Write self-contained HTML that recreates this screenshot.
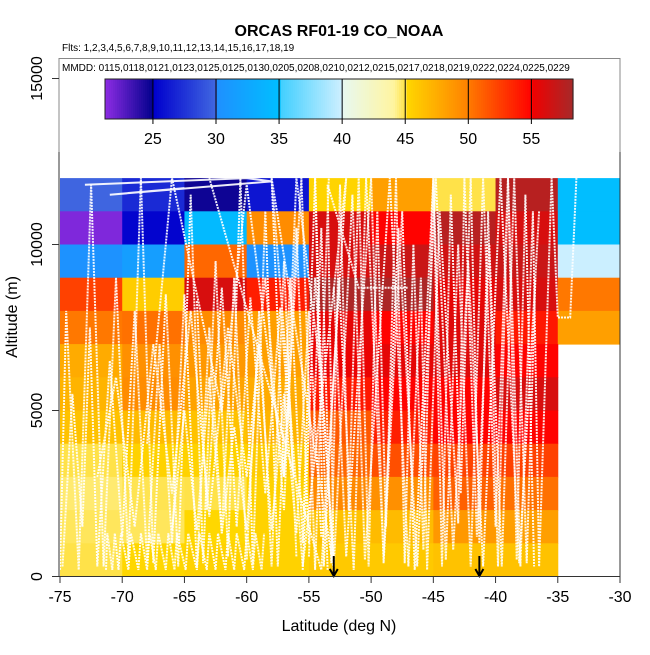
<!DOCTYPE html>
<html><head><meta charset="utf-8"><style>
html,body{margin:0;padding:0;background:#fff;}
svg text{font-family:"Liberation Sans",sans-serif;}
</style></head><body>
<svg id="chart" width="650" height="650" viewBox="0 0 650 650" xmlns="http://www.w3.org/2000/svg">
<text x="339" y="36" font-size="16" font-weight="bold" text-anchor="middle">ORCAS RF01-19 CO_NOAA</text>
<text x="62" y="51" font-size="10">Flts: 1,2,3,4,5,6,7,8,9,10,11,12,13,14,15,16,17,18,19</text>
<g id="cells"></g>
<g id="tracks"></g>
<g id="arrows"></g>
<rect x="59" y="58.5" width="561" height="93" fill="#fff" stroke="none"/>
<path d="M59,152 V58.5 H620 V152" fill="none" stroke="#888" stroke-width="1"/>
<text x="62" y="71" font-size="10">MMDD: 0115,0118,0121,0123,0125,0125,0130,0205,0208,0210,0212,0215,0217,0218,0219,0222,0224,0225,0229</text>
<g id="colorbar"></g>
<g id="axes"></g>
<text x="339" y="631" font-size="16" text-anchor="middle">Latitude (deg N)</text>
<text transform="translate(17,317) rotate(-90)" font-size="16" text-anchor="middle">Altitude (m)</text>
</svg>
<script>
const latBins=[-75,-70,-65,-60,-55,-50,-45,-40,-35];
const altBins=[11000,10000,9000,8000,7000,6000,5000,4000,3000,2000,1000,0];
const coValues=[
[29.8,27,24.6,26,45.2,48.2,44.9,57.5,34.9],
[21.5,25.2,34.5,49.3,56.1,54.9,57.5,56.1,34.9],
[30.2,31.5,50.7,30.2,56.1,56.7,56.4,56.7,39.8],
[52.3,45.6,56.1,53.8,58,58,55.5,56.1,50],
[50,50.3,49.3,48.2,55.5,54.9,55.8,54,48.2],
[47.5,49.1,48.6,48.2,55.2,55.5,55.8,54.9,null],
[47,49.3,48,47.5,54,54.9,54.9,56.1,null],
[46.2,46.6,46.2,47,51.3,53.7,54.9,54.9,null],
[44.9,45.3,45.3,45.7,50.7,51.7,52.2,52.3,null],
[44.5,44.8,44.9,45.3,49.5,49.1,51,50.3,null],
[44.7,44.7,45,45.3,46.2,46.6,48.6,48.2,null],
[44.9,45,45.3,45.3,45.8,45.8,46.2,46.2,null]];
const xTicks=[-75,-70,-65,-60,-55,-50,-45,-40,-35,-30];
const yTicks=[0,5000,10000,15000];
const cbTicks=[25,30,35,40,45,50,55];
const arrowLats=[-53,-41.3];
const trackLats=[
[-71.3,-71.2,-70.8,-70.6,-70.3,-70.1,-69.5,-69.3,-68.7,-68.5,-68,-67.8,-67.3,-67.1,-66.5,-66.3,-65.8,-65.6,-64.9,-64.7,-64,-63.8,-63.2,-63,-62.5,-62.3,-61.7,-61.5,-61,-60.8,-60.2,-60,-59.5,-59.3,-58.8,-58.6],
[-75,-74.5,-73.5,-72.5,-71.5,-70.5,-69.5,-68.5,-67.5,-66.5,-65.5,-64.5,-63.5,-62.5,-61.5,-60.5,-59.5,-58.5,-57.5,-56.5,-55.5,-54.5,-53.5],
[-63,-54,-52,-55.5,-58,-53,-53.5,-51,-47],
[-53,-52,-50,-49,-47.5,-46.5,-45,-44,-43,-42,-41,-40,-39,-38,-37,-36.5,-35.5,-35,-34,-33.5],
[-55.5,-54.5,-53,-51.5,-50.5,-48.5,-47,-46,-45.5,-44.5,-43,-42.5,-41.5,-40.5,-39.5,-38.5,-37.5,-36.8],
[-73,-60,-58,-71,-65],
[-72,-70.5,-69,-67.5,-66,-64.5,-63,-61.5,-60,-58.5,-57,-56,-55],
[-68,-66,-62,-60,-57,-56,-54,-53],
[-74.8,-74,-73.2,-72.6,-72,-71,-70,-69,-68,-67,-66,-65,-64,-63,-62,-61,-60,-59,-58,-57,-56],
[-55,-54,-53.2,-52.5,-51.8,-51,-50.2,-49.5,-48.8,-48,-47.3,-46.6,-45.8,-45,-44.3,-43.6,-42.8,-42,-41.3,-40.6,-39.8,-39,-38.3,-37.6,-36.9],
[-54.5,-53.8,-52.6,-51.4,-50.4,-49,-47.8,-46.3,-44.8,-43.4,-42.2,-41,-39.6,-38.1,-36.5],
[-66,-65,-64,-63,-62,-61,-60,-59,-58,-57,-56,-55,-54],
[-58,-57,-55.6,-54.5,-53.4],
[-64,-63.2,-62,-60.8,-59.7,-58.5,-57.3,-56.2]];
const trackAlts=[
[200,1300,200,1300,200,1300,200,1300,200,1300,200,1300,200,1300,200,1300,200,1300,200,1300,200,1300,200,1300,200,1300,200,1300,200,1300,200,1300,200,1300,200,1300],
[200,8000,200,11800,300,9000,500,12000,400,8500,300,11500,400,9500,600,12000,400,11000,300,9000,1000,12000,200],
[12000,200,12000,300,12000,200,11800,8700,8700],
[8700,600,12000,400,11000,200,12000,500,10000,300,12000,1500,12000,300,11000,300,12000,7800,7800,12000],
[200,9000,300,11500,500,12000,300,9000,200,11000,1600,12000,1200,10000,300,12000,400,9000],
[11800,12000,11900,11500,11700],
[3000,6000,1500,7000,2500,8000,1800,7500,3000,9000,2000,10500,1000],
[4000,12000,5000,11800,3000,12000,6000,400],
[300,5500,1500,7500,300,6500,1200,8000,400,7000,1000,8500,300,7500,1300,9000,500,8000,300,9500,600],
[600,10500,400,11800,2000,12000,300,11000,1500,12000,400,10000,800,12000,300,11500,2500,12000,1000,11000,300,12000,500,11500,300],
[12000,300,9000,200,12000,600,10500,300,12000,800,9500,300,12000,400,11000],
[1400,5000,1400,6000,1300,4500,1400,7000,1400,5500,1300,8000,1200],
[12000,3000,12000,200,12000],
[8300,2000,8700,1500,8400,2500,8100,3000]];
const X0=60,X1=620,LAT0=-75,LAT1=-30,Y0=576.5,SC=0.0332;
function xs(l){return X0+(l-LAT0)*(X1-X0)/(LAT1-LAT0);}
function ys(a){return Y0-a*SC;}
const stops=[[21.2,[138,43,226]],[24.99,[0,0,139]],[25,[0,0,205]],[29.99,[65,105,225]],[30,[30,144,255]],[34.99,[0,191,255]],[35,[64,207,255]],[39.99,[208,240,255]],[40,[232,248,240]],[44,[255,245,160]],[44.99,[255,224,64]],[45,[255,215,0]],[49.99,[255,128,0]],[50,[255,120,0]],[54.99,[255,0,0]],[55,[240,0,0]],[58.3,[165,42,42]]];
function cmap(v){
  if(v<=stops[0][0])return 'rgb('+stops[0][1]+')';
  for(let i=1;i<stops.length;i++){if(v<=stops[i][0]){const a=stops[i-1],b=stops[i];const t=(v-a[0])/(b[0]-a[0]);const c=a[1].map((q,k)=>Math.round(q+(b[1][k]-q)*t));return 'rgb('+c+')';}}
  return 'rgb('+stops[stops.length-1][1]+')';
}
const NS='http://www.w3.org/2000/svg';
function mk(tag,attrs,parent){const e=document.createElementNS(NS,tag);for(const k in attrs)e.setAttribute(k,attrs[k]);parent.appendChild(e);return e;}
const cells=document.getElementById('cells');
coValues.forEach((row,ri)=>{row.forEach((v,ci)=>{if(v===null)return;
  const x=xs(latBins[ci]),w=xs(latBins[ci]+5)-x,y=ys(altBins[ri]+1000),h=ys(altBins[ri])-y;
  const r=mk('rect',{x:x,y:y,width:w+0.5,height:h+0.5,fill:cmap(v)},cells);
  
  
});});
const tracks=document.getElementById('tracks');
trackLats.forEach((lats,ti)=>{
  const pts=lats.map((l,i)=>xs(l).toFixed(1)+','+ys(trackAlts[ti][i]).toFixed(1)).join(' ');
  const p=mk('polyline',{points:pts,fill:'none',stroke:'#fff','stroke-width':2,'stroke-dasharray':ti===5?'none':'2 1','stroke-opacity':0.92},tracks);
  
  
});
const arrows=document.getElementById('arrows');
arrowLats.forEach(l=>{const x=xs(l);
  const a=mk('path',{d:`M${x},556 V575 M${x-4},569 L${x},576 L${x+4},569`,stroke:'#000','stroke-width':2,fill:'none'},arrows);
  
  
});
const cb=document.getElementById('colorbar');
const CB0=105,CB1=573,V0=21.2,V1=58.3;
function cx(v){return CB0+(v-V0)*(CB1-CB0)/(V1-V0);}
for(let i=0;i<234;i++){const v=V0+(V1-V0)*i/234;mk('rect',{x:cx(v),y:79,width:(CB1-CB0)/234+0.6,height:40,fill:cmap(v)},cb);}
mk('rect',{x:CB0,y:79,width:CB1-CB0,height:40,fill:'none',stroke:'#222','stroke-width':1},cb);
cbTicks.forEach(t=>{const x=cx(t);
  mk('line',{x1:x,y1:79,x2:x,y2:124,stroke:'#000','stroke-width':1},cb);
  const tx=mk('text',{x:x,y:144,'font-size':16,'text-anchor':'middle'},cb);tx.textContent=t;
  
  
});
const ax=document.getElementById('axes');
mk('path',{d:`M${X0-1},152 V576.5 H${X1} V152`,fill:'none',stroke:'#333','stroke-width':1},ax);
xTicks.forEach(t=>{const x=xs(t);
  mk('line',{x1:x,y1:576.5,x2:x,y2:583,stroke:'#333'},ax);
  const tx=mk('text',{x:x,y:602,'font-size':16,'text-anchor':'middle'},ax);tx.textContent=t;
  
  
});
yTicks.forEach(t=>{const y=ys(t);
  mk('line',{x1:52,y1:y,x2:59,y2:y,stroke:'#333'},ax);
  const tx=mk('text',{transform:`translate(42,${y}) rotate(-90)`,'font-size':16,'text-anchor':'middle'},ax);tx.textContent=t;
  
  
});
</script>
</body></html>
